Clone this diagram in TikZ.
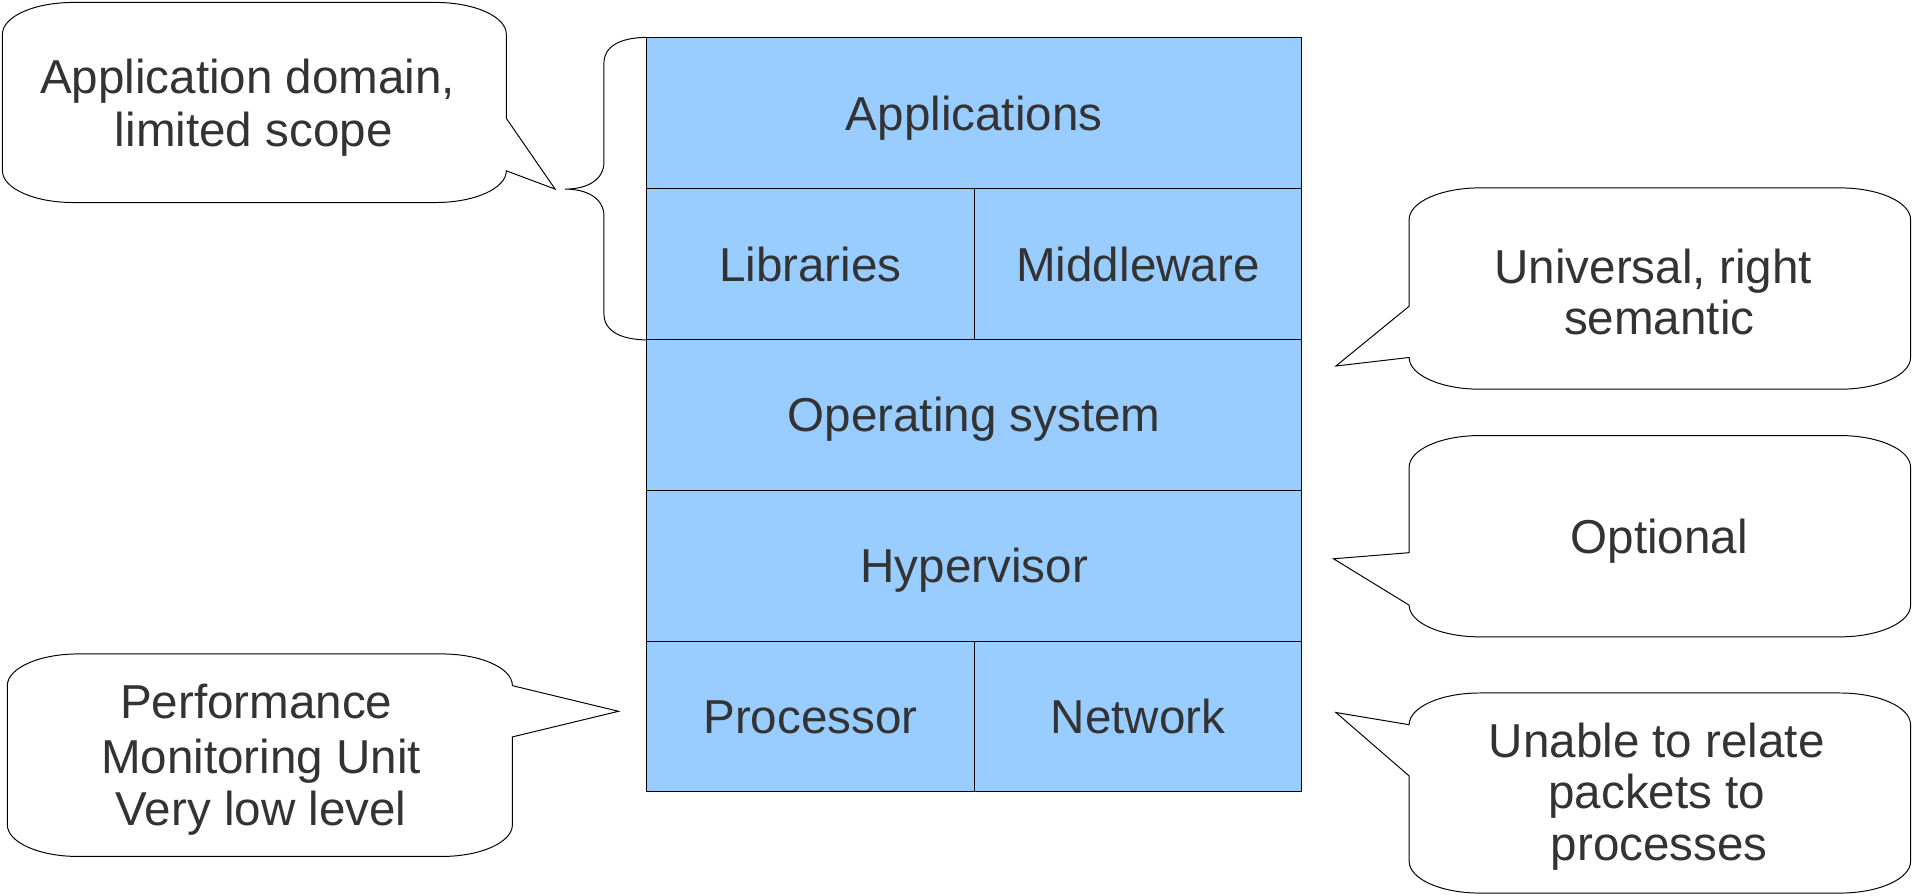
\documentclass[tikz,border=0pt]{standalone}
\usepackage{fontspec}
\setmainfont{Liberation Sans}
\definecolor{boxblue}{HTML}{99CCFF}
\definecolor{ink}{HTML}{333333}
\newcommand\layerfont{\fontsize{39}{43}\selectfont}

\begin{document}
\begin{tikzpicture}[x=1pt,y=-1pt,
  cell/.style={draw=black, fill=boxblue, line width=0.8pt, inner sep=0pt,
    text=ink, font=\layerfont, text height=28pt, text depth=0pt},
  wide/.style={cell, minimum width=537pt, minimum height=123.6pt},
  half/.style={cell, minimum width=268.5pt, minimum height=123.6pt},
  bubble/.style={draw=black, fill=white, line width=0.8pt},
  bubbletext/.style={anchor=base, inner sep=0pt, text=ink, font=\layerfont},
  bracket/.style={draw=black, line width=0.8pt}]

\useasboundingbox (0,0) rectangle (1568,734);

% software / hardware stack
\node[wide] (apps) at (798.5,92.8)  {Applications};
\node[half] (libs) at (664.25,216.4) {Libraries};
\node[half] (mw)   at (932.75,216.4) {Middleware};
\node[wide] (os)   at (798.5,340)   {Operating system};
\node[wide] (hv)   at (798.5,463.6) {Hypervisor};
\node[half] (cpu)  at (664.25,587.2) {Processor};
\node[half] (net)  at (932.75,587.2) {Network};

% curly bracket grouping the application layers
\coordinate (bracetip) at (463,155);
\draw[bracket] (apps.north west) .. controls (508,31) and (495,38) .. (495,52)
  -- (495,133) .. controls (495,147) and (482,155) .. (bracetip)
  .. controls (482,155) and (495,163) .. (495,177)
  -- (495,257) .. controls (495,271) and (508,278.2) .. (libs.south west);

% callout tail tips
\coordinate (tipA) at (455,155);
\coordinate (tipU) at (1095,300);
\coordinate (tipO) at (1093,458);
\coordinate (tipN) at (1095,584);
\coordinate (tipP) at (507,583);

% callout: application domain
\draw[bubble] (2,28) .. controls (2,13.6) and (28,2) .. (60,2) -- (357,2)
  .. controls (389,2) and (415,13.6) .. (415,28) -- (415,97) -- (tipA) -- (415,140)
  .. controls (415,154.4) and (389,166) .. (357,166) -- (60,166)
  .. controls (28,166) and (2,154.4) .. (2,140) -- cycle;
\node[bubbletext] (appdom1) at (203,77) {Application domain,};
\node[bubbletext] (appdom2) at (208,120) {limited scope};

% callout: universal
\draw[bubble] (1155,180) .. controls (1155,165.6) and (1181,154) .. (1213,154) -- (1508,154)
  .. controls (1540,154) and (1566,165.6) .. (1566,180) -- (1566,293)
  .. controls (1566,307.4) and (1540,319) .. (1508,319) -- (1213,319)
  .. controls (1181,319) and (1155,307.4) .. (1155,293) -- (tipU) -- (1155,251) -- cycle;
\node[bubbletext] (univ1) at (1355,232) {Universal, right};
\node[bubbletext] (univ2) at (1360,274) {semantic};

% callout: optional
\draw[bubble] (1155,383) .. controls (1155,368.6) and (1181,357) .. (1213,357) -- (1508,357)
  .. controls (1540,357) and (1566,368.6) .. (1566,383) -- (1566,496)
  .. controls (1566,510.4) and (1540,522) .. (1508,522) -- (1213,522)
  .. controls (1181,522) and (1155,510.4) .. (1155,496) -- (tipO) -- (1155,453) -- cycle;
\node[bubbletext] (opt) at (1360,454) {Optional};

% callout: network
\draw[bubble] (1155,594) .. controls (1155,579.6) and (1181,568) .. (1213,568) -- (1508,568)
  .. controls (1540,568) and (1566,579.6) .. (1566,594) -- (1566,706)
  .. controls (1566,720.4) and (1540,732) .. (1508,732) -- (1213,732)
  .. controls (1181,732) and (1155,720.4) .. (1155,706) -- (1155,636) -- (tipN) -- cycle;
\node[bubbletext] (unable1) at (1358,621) {Unable to relate};
\node[bubbletext] (unable2) at (1358,663) {packets to};
\node[bubbletext] (unable3) at (1360,705) {processes};

% callout: performance monitoring unit
\draw[bubble] (6,562) .. controls (6,547.6) and (32,536) .. (64,536) -- (362,536)
  .. controls (394,536) and (420,547.6) .. (420,562) -- (tipP) -- (420,604) -- (420,676)
  .. controls (420,690.4) and (394,702) .. (362,702) -- (64,702)
  .. controls (32,702) and (6,690.4) .. (6,676) -- cycle;
\node[bubbletext] (pmu1) at (210,589) {Performance};
\node[bubbletext] (pmu2) at (214,634) {Monitoring Unit};
\node[bubbletext] (pmu3) at (214,677) {Very low level};

\end{tikzpicture}
\end{document}
